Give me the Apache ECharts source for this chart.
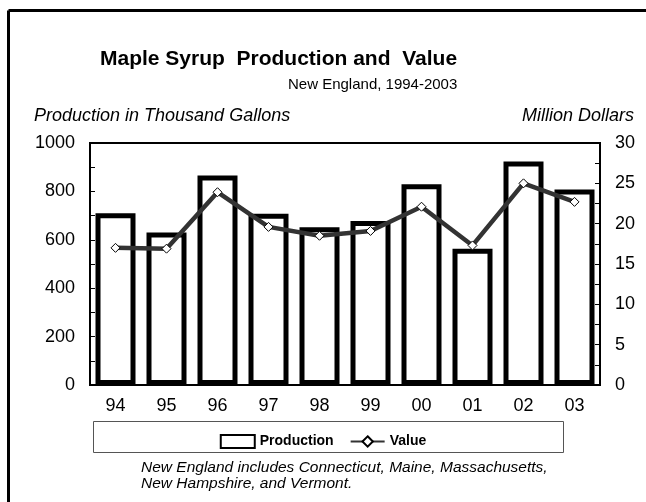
<!DOCTYPE html>
<html>
<head>
<meta charset="utf-8">
<script src="https://cdn.jsdelivr.net/npm/echarts@6/dist/echarts.min.js"></script>
<style>
  html, body { margin: 0; padding: 0; background: #fff; }
  #chart { width: 646px; height: 502px; }
</style>
</head>
<body>
<div id="chart"></div>
<script>
var years = ['94', '95', '96', '97', '98', '99', '00', '01', '02', '03'];
var production = [710, 630, 866, 708, 652, 678, 830, 563, 924, 808];
var value = [17.0, 16.9, 23.9, 19.6, 18.5, 19.1, 22.1, 17.3, 25.0, 22.7];

var font = 'Liberation Sans, Arial, sans-serif';

var option = {
  animation: false,
  backgroundColor: '#fff',
  title: [
    { text: 'Maple Syrup  Production and  Value', left: 95, top: 44,
      textStyle: { fontFamily: font, fontSize: 21, fontWeight: 'bold', color: '#000' } },
    { text: 'New England, 1994-2003', left: 283, top: 72,
      textStyle: { fontFamily: font, fontSize: 15, fontWeight: 'normal', color: '#000' } },
    { text: 'Production in Thousand Gallons', left: 29, top: 102,
      textStyle: { fontFamily: font, fontSize: 18, fontStyle: 'italic', fontWeight: 'normal', color: '#000' } },
    { text: 'Million Dollars', right: 7, top: 102,
      textStyle: { fontFamily: font, fontSize: 18, fontStyle: 'italic', fontWeight: 'normal', color: '#000' } },
    { text: 'New England includes Connecticut, Maine, Massachusetts,\nNew Hampshire, and Vermont.', left: 136, top: 455,
      textStyle: { fontFamily: font, fontSize: 15.5, fontStyle: 'italic', fontWeight: 'normal', color: '#000', lineHeight: 16 } }
  ],
  graphic: [
    { type: 'line', shape: { x1: 8.5, y1: 10.5, x2: 646, y2: 10.5 }, style: { stroke: '#000', lineWidth: 3 } },
    { type: 'line', shape: { x1: 8.5, y1: 10.5, x2: 8.5, y2: 502 }, style: { stroke: '#000', lineWidth: 3 } },
    { type: 'rect', shape: { x: 93.5, y: 421.5, width: 470, height: 31 }, style: { fill: 'none', stroke: '#555', lineWidth: 1 } }
  ],
  legend: {
    top: 429,
    left: 'center',
    itemWidth: 34,
    itemHeight: 13,
    itemGap: 16,
    textStyle: { fontFamily: font, fontSize: 14, fontWeight: 'bold', color: '#000' },
    data: [{ name: 'Production', icon: 'rect' }, 'Value']
  },
  grid: {
    left: 90, right: 46, top: 143, bottom: 117,
    show: true, borderColor: '#000', borderWidth: 2, backgroundColor: '#fff'
  },
  xAxis: {
    type: 'category',
    data: years,
    axisLine: { lineStyle: { color: '#000', width: 2 } },
    axisTick: { alignWithLabel: true, length: 5, lineStyle: { color: '#888' } },
    axisLabel: { fontFamily: font, fontSize: 18, color: '#000', margin: 12 }
  },
  yAxis: [
    {
      type: 'value', min: 0, max: 1000, interval: 200,
      axisLine: { show: true, lineStyle: { color: '#000', width: 2 } },
      axisTick: { show: true, inside: true, length: 5, lineStyle: { color: '#000' } },
      minorTick: { show: true, splitNumber: 2, length: 5, lineStyle: { color: '#000' } },
      splitLine: { show: false },
      axisLabel: { fontFamily: font, fontSize: 18, color: '#000', margin: 15,
        formatter: function (v) { return String(v); } }
    },
    {
      type: 'value', min: 0, max: 30, interval: 5,
      axisLine: { show: true, lineStyle: { color: '#000', width: 2 } },
      axisTick: { show: true, inside: true, length: 5, lineStyle: { color: '#000' } },
      minorTick: { show: true, splitNumber: 2, length: 5, lineStyle: { color: '#000' } },
      splitLine: { show: false },
      axisLabel: { fontFamily: font, fontSize: 18, color: '#000', margin: 15 }
    }
  ],
  series: [
    {
      name: 'Production',
      type: 'bar',
      yAxisIndex: 0,
      barWidth: 40,
      data: production,
      itemStyle: { color: '#fff', borderColor: '#000', borderWidth: 5 }
    },
    {
      name: 'Value',
      type: 'line',
      yAxisIndex: 1,
      data: value,
      symbol: 'diamond',
      symbolSize: 9,
      showAllSymbol: true,
      lineStyle: { color: '#333', width: 4.5 },
      itemStyle: { color: '#fff', borderColor: '#000', borderWidth: 1 }
    }
  ]
};

var chart = echarts.init(document.getElementById('chart'));
chart.setOption(option);
</script>
</body>
</html>
